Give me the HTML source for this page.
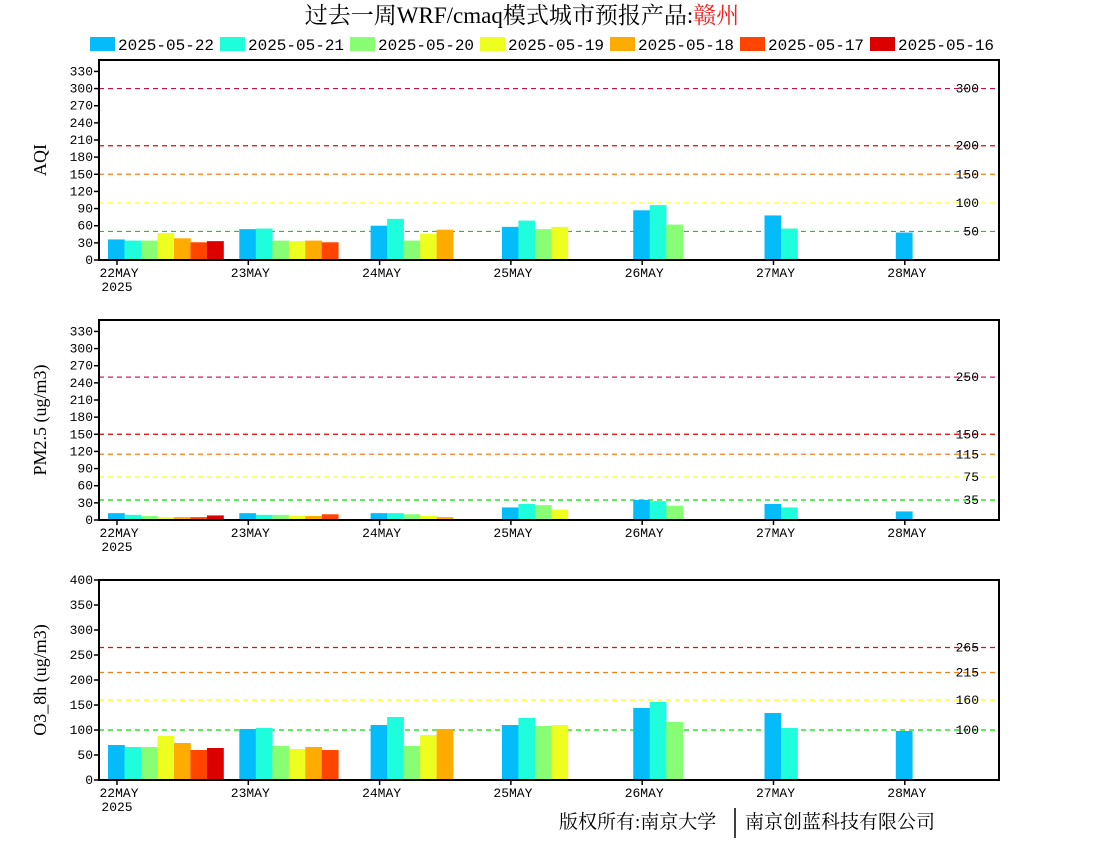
<!DOCTYPE html>
<html><head><meta charset="utf-8">
<style>
body{margin:0;background:#fff;}
svg{display:block;font-family:"Liberation Mono","DejaVu Sans Mono",monospace;}
.cjk{font-family:"Liberation Serif","Noto Serif CJK SC","Noto Sans CJK SC",serif;}
</style></head>
<body>
<svg id="chart" width="1100" height="850" viewBox="0 0 1100 850" xmlns="http://www.w3.org/2000/svg">
<text class="cjk" x="522" y="23" font-size="23" text-anchor="middle">过去一周WRF/cmaq模式城市预报产品:<tspan fill="#ee2222">赣州</tspan></text>
<g id="legend"></g>
<g id="panels"></g>
<text class="cjk" x="559" y="828" font-size="19">版权所有:南京大学</text>
<line x1="735" y1="808" x2="735" y2="838" stroke="#000" stroke-width="1.5"/>
<text class="cjk" x="745" y="828" font-size="19">南京创蓝科技有限公司</text>
</svg>
<script>
const seriesNames = ["2025-05-22","2025-05-21","2025-05-20","2025-05-19","2025-05-18","2025-05-17","2025-05-16"];
const seriesColors = ["#05bcfb","#1ffedc","#88fe75","#eefe1e","#ffab00","#ff4500","#dc0000"];
const days = ["22MAY","23MAY","24MAY","25MAY","26MAY","27MAY","28MAY"];
const aqiValues = [
  [36,34,34,47,38,31,33],
  [54,55,34,33,34,31],
  [60,72,34,46,53],
  [58,69,54,58],
  [87,96,62],
  [78,55],
  [48]
];
const pm25Values = [
  [12,9,7,5,5,5,8],
  [12,9,9,7,7,10],
  [12,12,10,7,5],
  [22,28,26,18],
  [35,33,25],
  [28,22],
  [15]
];
const o3Values = [
  [70,66,66,88,74,60,64],
  [102,104,68,62,66,60],
  [110,126,68,90,102],
  [110,124,108,110],
  [144,156,116],
  [134,104],
  [98]
];
const aqiTicks = [0,30,60,90,120,150,180,210,240,270,300,330];
const pmTicks = [0,30,60,90,120,150,180,210,240,270,300,330];
const o3Ticks = [0,50,100,150,200,250,300,350,400];
const aqiRefs = [50,100,150,200,300];
const aqiRefColors = ["#00dd00","#ffff44","#f08020","#ee0000","#c01050"];
const pmRefs = [35,75,115,150,250];
const pmRefColors = ["#00dd00","#ffff00","#f08020","#dd0000","#dd1077"];
const o3Refs = [100,160,215,265];
const o3RefColors = ["#00dd00","#ffff00","#f08020","#ff0000"];

const NS="http://www.w3.org/2000/svg";
function mk(tag,attrs,parent){const e=document.createElementNS(NS,tag);for(const k in attrs)e.setAttribute(k,attrs[k]);parent.appendChild(e);return e;}

const legend=document.getElementById('legend');
seriesNames.forEach((n,i)=>{
  const x=90+i*130;
  const r=mk('rect',{x:x,y:37,width:25,height:14,fill:seriesColors[i]},legend);
  
  
  const t=mk('text',{x:x+28,y:50,'font-size':16},legend);
  
  
  t.textContent=n;
});

const X0=99,X1=999,DAY0=117,DAYW=131.3,BARW=16.5;
function xDay(i){return DAY0+i*DAYW;}
function drawPanel(name,top,bottom,ymax,ticks,vals,refs,refColors,title){
  const g=mk('g',{},document.getElementById('panels'));
  
  
  const y=v=>bottom-(v/ymax)*(bottom-top);
  refs.forEach((r,i)=>{
    const l=mk('line',{x1:X0,x2:X1,y1:y(r),y2:y(r),stroke:refColors[i],'stroke-width':1.2,'stroke-dasharray':'5,4'},g);
    
    
    const t=mk('text',{x:979,y:y(r)+4,'font-size':13,'text-anchor':'end'},g);
    
    
    t.textContent=r;
  });
  vals.forEach((arr,d)=>{
    arr.forEach((v,s)=>{
      const b=mk('rect',{x:xDay(d)-9+s*BARW,y:y(v),width:BARW+0.3,height:bottom-y(v),fill:seriesColors[s]},g);
      
      
    });
  });
  const f=mk('rect',{x:X0,y:top,width:X1-X0,height:bottom-top,fill:'none',stroke:'#000','stroke-width':2},g);
  
  
  ticks.forEach(tv=>{
    mk('line',{x1:X0-5,x2:X0,y1:y(tv),y2:y(tv),stroke:'#000','stroke-width':1.5},g);
    const t=mk('text',{x:X0-6,y:y(tv)+4,'font-size':13,'text-anchor':'end'},g);
    
    
    t.textContent=tv;
  });
  days.forEach((dn,i)=>{
    mk('line',{x1:xDay(i),x2:xDay(i),y1:bottom,y2:bottom+5,stroke:'#000','stroke-width':1.5},g);
    const t=mk('text',{x:xDay(i)+2,y:bottom+17,'font-size':13,'text-anchor':'middle'},g);
    
    
    t.textContent=dn;
  });
  const yr=mk('text',{x:xDay(0),y:bottom+31,'font-size':13,'text-anchor':'middle'},g);
  
  
  yr.textContent='2025';
  const cy=(top+bottom)/2;
  const at=mk('text',{x:46,y:cy,'font-size':18,'text-anchor':'middle',transform:'rotate(-90 46 '+cy+')','font-family':'Liberation Serif, serif'},g);
  
  
  at.textContent=title;
}
drawPanel('aqi',60,260,350,aqiTicks,aqiValues,aqiRefs,aqiRefColors,'AQI');
drawPanel('pm25',320,520,350,pmTicks,pm25Values,pmRefs,pmRefColors,'PM2.5 (ug/m3)');
drawPanel('o3',580,780,400,o3Ticks,o3Values,o3Refs,o3RefColors,'O3_8h (ug/m3)');
</script>
</body></html>
